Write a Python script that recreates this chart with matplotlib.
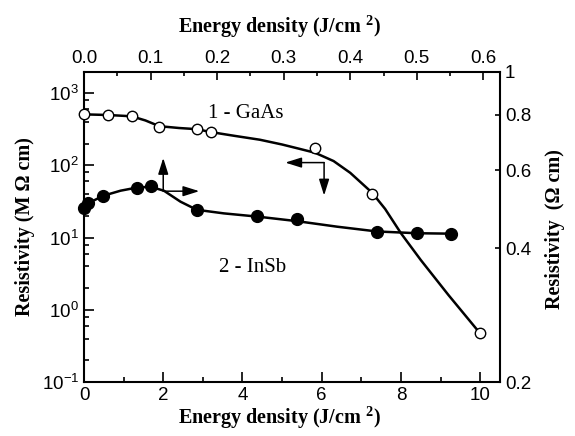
import matplotlib
matplotlib.use('Agg')
import matplotlib.pyplot as plt
from matplotlib.ticker import FixedLocator, LogLocator, NullLocator, NullFormatter, MultipleLocator, FixedFormatter, FormatStrFormatter

plt.rcParams['font.family'] = ['Liberation Sans', 'DejaVu Sans']
plt.rcParams['mathtext.fontset'] = 'custom'
plt.rcParams['mathtext.rm'] = 'Liberation Sans'
plt.rcParams['mathtext.it'] = 'Liberation Sans:italic'
plt.rcParams['mathtext.bf'] = 'Liberation Serif:bold'
plt.rcParams['axes.unicode_minus'] = False

# ---- data ----
# 1 - GaAs : bottom energy axis (J/cm^2), left resistivity axis (MOhm cm)
gaas_energy = [0.0, 0.6, 1.2, 1.9, 2.85, 3.2, 5.83, 7.26, 10.0]
gaas_resist = [510, 500, 487, 346, 318, 286, 174, 40.5, 0.47]
# smooth guide curve drawn through GaAs data
gaas_curve_energy = [0.0, 0.6, 1.2, 1.55, 1.9, 2.4, 2.85, 3.2, 3.8, 4.44, 5.0, 5.4, 5.83,
                     6.3, 6.72, 7.27, 7.6, 8.0, 8.5, 9.2, 10.0]
gaas_curve_resist = [510, 500, 480, 420, 350, 330, 318, 290, 257, 227, 195, 172, 150,
                     115, 79, 42, 25, 11.5, 4.9, 1.6, 0.47]

# 2 - InSb : top energy axis (J/cm^2), right resistivity axis (Ohm cm)
insb_energy = [0.0, 0.0065, 0.029, 0.080, 0.100, 0.1695, 0.2606, 0.32, 0.44, 0.50, 0.5515]
insb_resist = [0.493, 0.506, 0.526, 0.547, 0.553, 0.489, 0.474, 0.465, 0.436, 0.433, 0.432]
# smooth guide curve drawn through InSb data
insb_curve_energy = [0.0, 0.0065, 0.029, 0.055, 0.080, 0.100, 0.12, 0.145, 0.1695, 0.21,
                     0.2606, 0.32, 0.38, 0.44, 0.50, 0.5515]
insb_curve_resist = [0.493, 0.506, 0.526, 0.540, 0.549, 0.551, 0.540, 0.510, 0.489, 0.480,
                     0.472, 0.461, 0.448, 0.437, 0.433, 0.432]

bottom_ticks = [0, 2, 4, 6, 8, 10]
top_ticks = [0.0, 0.1, 0.2, 0.3, 0.4, 0.5, 0.6]
right_ticks = [0.2, 0.4, 0.6, 0.8, 1.0]
right_labels = ['0.2', '0.4', '0.6', '0.8', '1']

W, H = 575, 436
fig = plt.figure(figsize=(W / 100, H / 100), dpi=100)
pos = [84 / W, (H - 382) / H, (500 - 84) / W, (382 - 72) / H]
ax = fig.add_axes(pos)
ax2 = fig.add_axes(pos, frameon=False)

serif_bold = dict(family='Liberation Serif', weight='bold', size=14.5)
tick_fs = 13.5

# ---- primary axes: bottom / left ----
ax.set_xlim(0, 10.5)
ax.set_yscale('log')
ax.set_ylim(0.1, 1970)
ax.xaxis.set_major_locator(FixedLocator(bottom_ticks))
ax.xaxis.set_minor_locator(MultipleLocator(1))
ax.yaxis.set_major_locator(LogLocator(base=10, numticks=10))
ax.yaxis.set_minor_locator(LogLocator(base=10, subs=[2, 4, 6, 8], numticks=10))
ax.yaxis.set_minor_formatter(NullFormatter())
ax.tick_params(which='both', direction='in', top=False, right=False, width=1.2, labelsize=tick_fs)
ax.tick_params(which='major', length=7)
ax.tick_params(which='minor', length=3.6)
for s in ax.spines.values():
    s.set_linewidth(1.5)

ax.plot(gaas_curve_energy, gaas_curve_resist, color='black', lw=1.8, zorder=2)
ax.plot(gaas_energy, gaas_resist, linestyle='none', marker='o', ms=7.5,
        mfc='white', mec='black', mew=1.0, zorder=3, clip_on=False)

# ---- secondary axes: top / right ----
ax2.set_xlim(0, 0.625)
ax2.set_yscale('log')
ax2.set_ylim(0.2, 1.0)
ax2.xaxis.tick_top()
ax2.yaxis.tick_right()
ax2.xaxis.set_major_locator(FixedLocator(top_ticks))
ax2.xaxis.set_major_formatter(FormatStrFormatter('%.1f'))
ax2.xaxis.set_minor_locator(MultipleLocator(0.05))
ax2.yaxis.set_major_locator(FixedLocator(right_ticks))
ax2.yaxis.set_major_formatter(FixedFormatter(right_labels))
ax2.yaxis.set_minor_locator(NullLocator())
ax2.tick_params(which='both', direction='in', width=1.2, labelsize=tick_fs)
ax2.tick_params(axis='x', which='major', length=5.8)
ax2.tick_params(axis='x', which='minor', length=3)
ax2.tick_params(axis='y', which='major', length=3.6)

ax2.plot(insb_curve_energy, insb_curve_resist, color='black', lw=1.8, zorder=2)
ax2.plot(insb_energy, insb_resist, linestyle='none', marker='o', ms=8.5,
         mfc='black', mec='black', zorder=3, clip_on=False)

# ---- labels ----
ax.set_xlabel('Energy density (J/cm $^{\\mathbf{2}}$)', **serif_bold)
ax.xaxis.set_label_coords(0.47, -0.115)
ax.xaxis.label.set_va('center')
ax2.set_xlabel('Energy density (J/cm $^{\\mathbf{2}}$)', **serif_bold)
ax2.xaxis.set_label_position('top')
ax2.xaxis.set_label_coords(0.47, 1.148)
ax2.xaxis.label.set_va('center')
ax.set_ylabel('Resistivity (M \u03a9 cm)', **serif_bold)
ax.yaxis.set_label_coords(-0.142, 0.5)
ax.yaxis.label.set_va('center')
ax2.set_ylabel('Resistivity  (\u03a9 cm)', **serif_bold)
ax2.yaxis.set_label_position('right')
ax2.yaxis.set_label_coords(1.132, 0.494)
ax2.yaxis.label.set_va('center')

ax.text(3.13, 518, '1 - GaAs', family='Liberation Serif', size=15, ha='left', va='center')
ax.text(3.4, 3.9, '2 - InSb', family='Liberation Serif', size=15, ha='left', va='center')

# ---- arrows ----
aprops = dict(arrowstyle='-|>,head_length=0.7,head_width=0.22', color='black', lw=1.1,
              shrinkA=0, shrinkB=0, mutation_scale=14)
ax.annotate('', xy=(5.08, 109.5), xytext=(6.06, 109.5), arrowprops=aprops)
ax.annotate('', xy=(6.06, 38.3), xytext=(6.06, 109.5), arrowprops=aprops)
ax.annotate('', xy=(2.0, 127), xytext=(2.0, 44), arrowprops=aprops)
ax.annotate('', xy=(2.91, 44), xytext=(2.0, 44), arrowprops=aprops)

fig.savefig('out.png', dpi=100)
